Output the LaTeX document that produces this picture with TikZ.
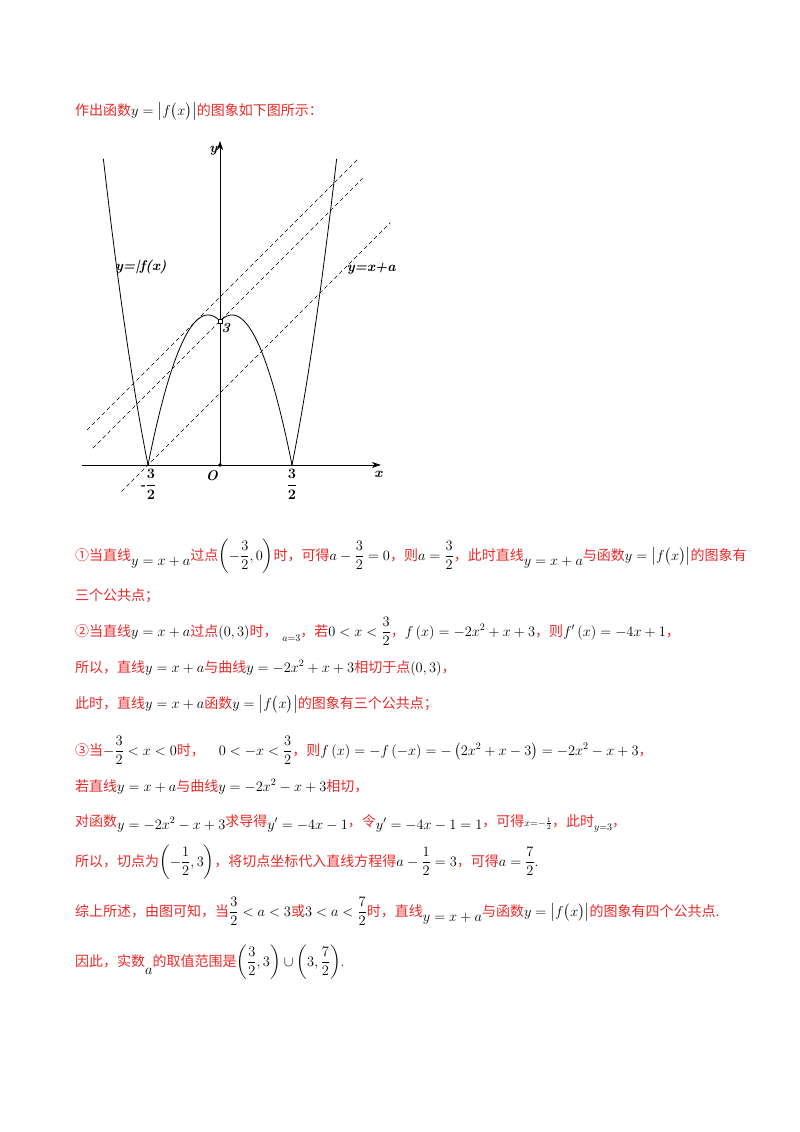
\documentclass[tikz,border=0pt]{standalone}
\usepackage{fontspec}
\usepackage{amsmath}
\usetikzlibrary{arrows.meta}
\newfontfamily\cjk{Noto Sans CJK SC}
\definecolor{txtred}{RGB}{235,40,40}
\newcommand{\R}[1]{{\color{txtred}\cjk #1}}
\newcommand{\M}[1]{{\color{black}$#1$}}
\newcommand{\fab}{\bigl|f\bigl(x\bigr)\bigr|}
\begin{document}
\begin{tikzpicture}[x=1pt,y=-1pt,
  line/.style={anchor=base west,inner sep=0pt,font=\fontsize{14}{16}\selectfont},
  lab/.style={inner sep=0pt,font=\bfseries\itshape\fontsize{14}{15}\selectfont},
  curve/.style={line width=0.8pt},
  dash line/.style={dashed,line width=0.6pt,dash pattern=on 4pt off 3pt}]
\useasboundingbox (0,0) rectangle (800,1132);
% text
\node[line] (t0) at (75,115) {\R{作出函数}\M{y=\fab}\R{的图象如下图所示：}};
% graph
\begin{scope}[shift={(220,465)},x=48pt,y=48pt]
\coordinate (xs) at (-2.88,0); \coordinate (xe) at (3.35,0);
\coordinate (ys) at (0,0); \coordinate (ye) at (0,6.75);
\draw[line width=0.6pt,-{Stealth[length=9pt,width=6pt]}] (xs) -- (xe);
\draw[line width=0.6pt,-{Stealth[length=9pt,width=6pt]}] (ys) -- (ye);
\fill (0,0) circle (1.8pt);
\draw[curve,domain=-2.43:-1.5,samples=40] plot (\x,{2*\x*\x+\x-3});
\draw[curve,domain=-1.5:0,samples=60] plot (\x,{-2*\x*\x-\x+3});
\draw[curve,domain=0:1.5,samples=60] plot (\x,{-2*\x*\x+\x+3});
\draw[curve,domain=1.5:2.43,samples=40] plot (\x,{2*\x*\x-\x-3});
\coordinate (a1s) at (-2.05,-0.55); \coordinate (a1e) at (3.55,5.05);
\coordinate (a2s) at (-2.65,0.35); \coordinate (a2e) at (2.97,5.97);
\coordinate (a3s) at (-2.77,0.73); \coordinate (a3e) at (2.9,6.4);
\draw[dash line] (a1s) -- (a1e);
\draw[dash line] (a2s) -- (a2e);
\draw[dash line] (a3s) -- (a3e);
\draw[fill=white,line width=0.4pt] (-0.04,3.04) rectangle (0.04,2.96);
\node[lab] (ly) at (-0.14,6.55) {y};
\node[lab] (lx) at (3.3,-0.2) {x};
\node[lab] (lO) at (-0.17,-0.22) {O};
\node[lab] (l3) at (0.12,2.85) {3};
\node[lab,anchor=north] (lm) at (-1.5,-0.08) {$\boldsymbol{\text{-}\dfrac{3}{2}}$};
\node[lab,anchor=north] (lp) at (1.5,-0.08) {$\boldsymbol{\dfrac{3}{2}}$};
\node[lab] (lf) at (-1.65,4.12) {y=|f(x)};
\node[lab] (la) at (3.15,4.1) {y=x+a};
\end{scope}
% solution
\node[line] (t1) at (75,560) {\R{①当直线}\raisebox{-5pt}{\M{y=x+a}}\R{过点}\M{\left(-\dfrac{3}{2},0\right)}\R{时，可得}\M{a-\dfrac{3}{2}=0}\R{，则}\M{a=\dfrac{3}{2}}\R{，此时直线}\raisebox{-5pt}{\M{y=x+a}}\R{与函数}\M{y=\fab}\R{的图象有}};
\node[line] (t2) at (75,600) {\R{三个公共点；}};
\node[line] (t3) at (75,636) {\R{②当直线}\M{y=x+a}\R{过点}\M{(0,3)}\R{时，}\ \raisebox{-5pt}{\M{\scriptstyle a=3}}\R{，若}\M{0<x<\dfrac{3}{2}}\R{，}\M{f\left(x\right)=-2x^2+x+3}\R{，则}\M{f'\left(x\right)=-4x+1}\R{，}};
\node[line] (t4) at (75,672) {\R{所以，直线}\M{y=x+a}\R{与曲线}\M{y=-2x^2+x+3}\R{相切于点}\M{(0,3)}\R{，}};
\node[line] (t5) at (75,708) {\R{此时，直线}\M{y=x+a}\R{函数}\M{y=\fab}\R{的图象有三个公共点；}};
\node[line] (t6) at (75,755) {\R{③当}\M{-\dfrac{3}{2}<x<0}\R{时，}\quad\M{0<-x<\dfrac{3}{2}}\R{，则}\M{f\left(x\right)=-f\left(-x\right)=-\left(2x^2+x-3\right)=-2x^2-x+3}\R{，}};
\node[line] (t7) at (75,791) {\R{若直线}\M{y=x+a}\R{与曲线}\M{y=-2x^2-x+3}\R{相切，}};
\node[line] (t8) at (75,826) {\R{对函数}\raisebox{-3pt}{\M{y=-2x^2-x+3}}\R{求导得}\raisebox{-3pt}{\M{y'=-4x-1}}\R{，令}\raisebox{-3pt}{\M{y'=-4x-1=1}}\R{，可得}\M{\scriptstyle x=-\frac{1}{2}}\R{，此时}\raisebox{-4pt}{\M{\scriptstyle y=3}}\R{，}};
\node[line] (t9) at (75,866) {\R{所以，切点为}\M{\left(-\dfrac{1}{2},3\right)}\R{，将切点坐标代入直线方程得}\M{a-\dfrac{1}{2}=3}\R{，可得}\M{a=\dfrac{7}{2}}.};
\node[line] (t10) at (75,916) {\R{综上所述，由图可知，当}\M{\dfrac{3}{2}<a<3}\R{或}\M{3<a<\dfrac{7}{2}}\R{时，直线}\raisebox{-5pt}{\M{y=x+a}}\R{与函数}\M{y=\fab}\R{的图象有四个公共点.}};
\node[line] (t11) at (75,966) {\R{因此，实数}\raisebox{-8pt}{\M{a}}\R{的取值范围是}\M{\left(\dfrac{3}{2},3\right)\cup\left(3,\dfrac{7}{2}\right)}.};
\end{tikzpicture}
\end{document}
